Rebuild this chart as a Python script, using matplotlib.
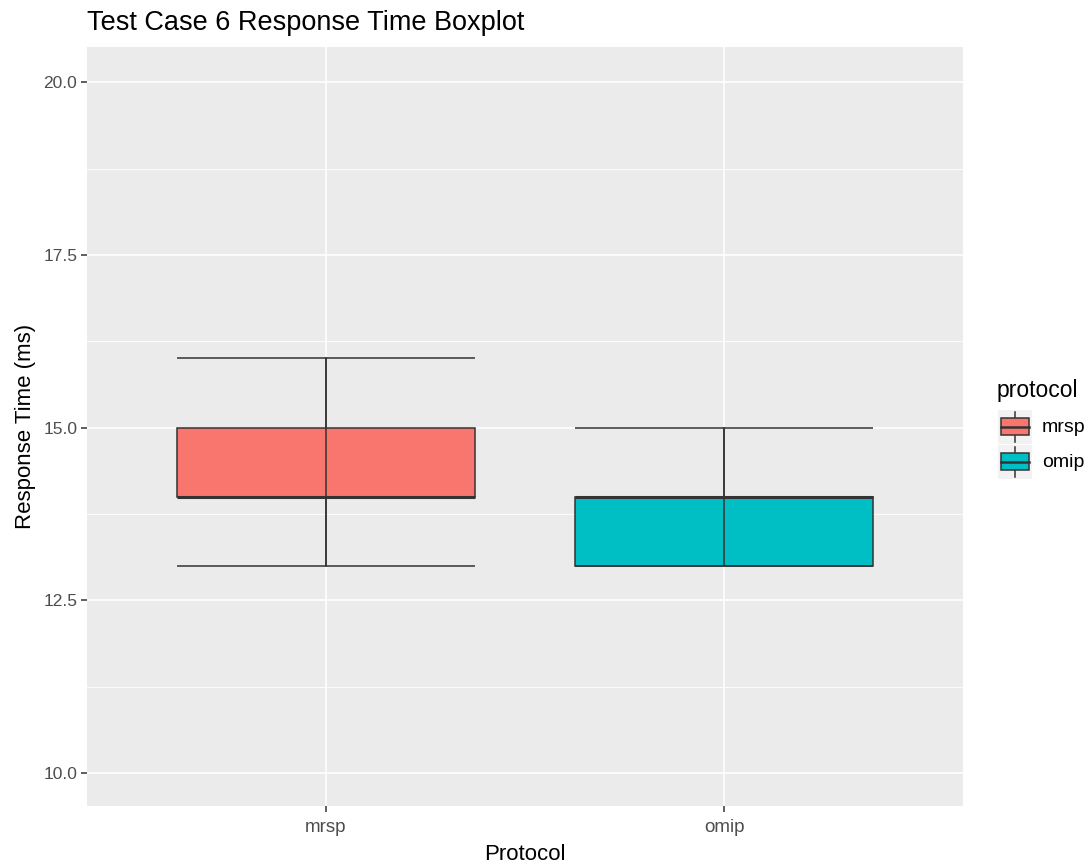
import matplotlib
matplotlib.use("Agg")
import matplotlib.pyplot as plt
from matplotlib.patches import Rectangle
from matplotlib.lines import Line2D

plt.rcParams['font.family'] = ['Liberation Sans', 'DejaVu Sans']

# Data
protocols = ['mrsp', 'omip']
whisker_low = [13.0, 13.0]
q1 = [14.0, 13.0]
median = [14.0, 14.0]
q3 = [15.0, 14.0]
whisker_high = [16.0, 15.0]
colors = ['#F8766D', '#00BFC4']
y_ticks = [10.0, 12.5, 15.0, 17.5, 20.0]
y_minor = [11.25, 13.75, 16.25, 18.75]

W, H = 1090, 863
fig = plt.figure(figsize=(W / 100, H / 100), dpi=100)
fig.patch.set_facecolor('white')

def fx(px):
    return px / W

def fy(py):
    return 1 - py / H

left, right, top, bottom = 87, 963, 47, 806
ax = fig.add_axes([fx(left), fy(bottom), fx(right - left), (bottom - top) / H])
ax.set_facecolor('#EBEBEB')
for s in ax.spines.values():
    s.set_visible(False)

ax.set_xlim(0.4, 2.6)
ax.set_ylim(9.52, 20.51)

# grid
for y in y_minor:
    ax.axhline(y, color='white', lw=0.6, zorder=0)
for y in y_ticks:
    ax.axhline(y, color='white', lw=1.2, zorder=0)
positions = list(range(1, len(protocols) + 1))
for x in positions:
    ax.axvline(x, color='white', lw=1.2, zorder=0)

edge = '#333333'
width = 0.75
stats = []
for i, p in enumerate(protocols):
    stats.append(dict(label=p, whislo=whisker_low[i], q1=q1[i], med=median[i],
                      q3=q3[i], whishi=whisker_high[i], fliers=[]))
bp = ax.bxp(stats, positions=positions, widths=width, patch_artist=True,
            showcaps=False, showfliers=False,
            boxprops=dict(edgecolor=edge, linewidth=1.1),
            medianprops=dict(color=edge, linewidth=2.2),
            whiskerprops=dict(color=edge, linewidth=1.1))
for patch, c in zip(bp['boxes'], colors):
    patch.set_facecolor(c)
    patch.set_zorder(2)
for m in bp['medians']:
    m.set_zorder(3)

# error bars (full whisker line through box + caps)
xs = positions
ax.vlines(xs, whisker_low, whisker_high, color=edge, lw=1.1, zorder=4)
ax.hlines(whisker_low, [x - width / 2 for x in xs], [x + width / 2 for x in xs], color=edge, lw=1.1, zorder=4)
ax.hlines(whisker_high, [x - width / 2 for x in xs], [x + width / 2 for x in xs], color=edge, lw=1.1, zorder=4)

ax.set_xticks(positions)
ax.set_xticklabels(protocols)
ax.set_yticks(y_ticks)
ax.set_yticklabels([f'{v:.1f}' for v in y_ticks])
ax.tick_params(axis='both', colors='#333333', length=4, width=1.1, labelsize=12.5,
               labelcolor='#4D4D4D', pad=3)
ax.tick_params(axis='x', labelsize=13.5, pad=5)
ax.set_xlabel('Protocol', fontsize=16, color='black', labelpad=6)
ax.set_ylabel('Response Time (ms)', fontsize=16, color='black', labelpad=5)

fig.text(fx(87), fy(23), 'Test Case 6 Response Time Boxplot', fontsize=19.5,
         ha='left', va='center', color='black')

# legend
fig.text(fx(997), fy(390), 'protocol', fontsize=16.5, ha='left', va='center', color='black')
key_tops = [410, 445]
for i, p in enumerate(protocols):
    kt = key_tops[i]
    kax = fig.add_axes([fx(998), fy(kt + 34), fx(34), 34 / H])
    kax.set_xlim(0, 1)
    kax.set_ylim(0, 1)
    kax.axis('off')
    kax.add_patch(Rectangle((0, 0), 1, 1, facecolor='#F2F2F2', edgecolor='none'))
    kax.add_line(Line2D([0.5, 0.5], [0.06, 0.94], color=edge, lw=1.1))
    kax.add_patch(Rectangle((0.1, 0.25), 0.8, 0.5, facecolor=colors[i], edgecolor=edge, lw=1.1, zorder=3))
    kax.add_line(Line2D([0.1, 0.9], [0.5, 0.5], color=edge, lw=1.8, zorder=4))
    fig.text(fx(1042), fy(kt + 17), p, fontsize=14, ha='left', va='center', color='black')

fig.savefig('out.png', dpi=100)
